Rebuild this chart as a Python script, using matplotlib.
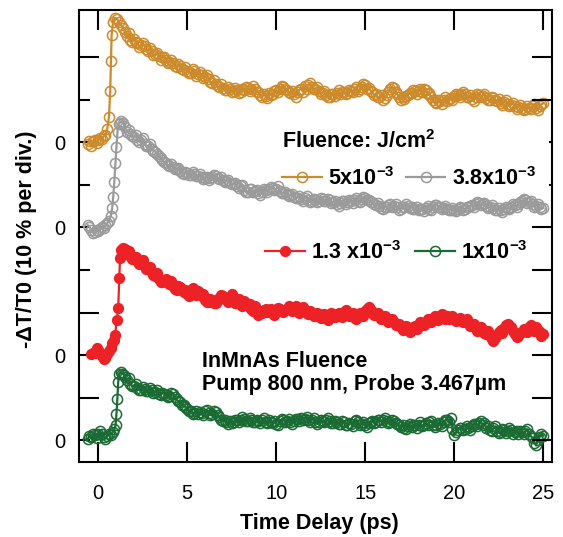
import numpy as np
import matplotlib
matplotlib.use("Agg")
import matplotlib.pyplot as plt

plt.rcParams['font.family'] = ['Liberation Sans', 'DejaVu Sans']
plt.rcParams['mathtext.fontset'] = 'custom'
plt.rcParams['mathtext.rm'] = 'Liberation Sans:bold'
plt.rcParams['mathtext.bf'] = 'Liberation Sans:bold'
plt.rcParams['mathtext.default'] = 'bf'

# ---- data: -dT/T0 in percent vs. pump-probe delay (ps) ----
# decay part is sampled on two interleaved 0.2 ps grids
t_tail = np.round(np.arange(1.6, 25.0001, 0.2), 2)   # 1.6, 1.8, ... 25.0
t_mid = np.round(np.arange(1.7, 24.9501, 0.2), 2)    # 1.7, 1.9, ... 24.9

# 5e-3 J/cm^2
t_head_5 = [-0.6, -0.5, -0.4, -0.3, -0.2, -0.1, 0.0, 0.1, 0.2, 0.3, 0.4, 0.5,
            0.6, 0.67, 0.71, 0.75, 0.83, 0.94, 1.05, 1.16, 1.28, 1.39, 1.5]
v_head_5 = [-0.5, 0.3, -0.8, 0.2, 0.6, -0.2, 0.5, 1.0, 0.8, 1.4, 1.6, 3.0,
            5.9, 12.0, 19.1, 25.2, 28.2, 29.1, 28.9, 28.2, 27.5, 26.8, 25.9]
v_tail_5 = [24.9, 24.1, 24.3, 23.2, 22.8, 22.6, 21.5, 21.3, 20.6, 20.3,
            19.9, 19.2, 18.9, 18.6, 17.7, 17.9, 17.0, 16.8, 16.2, 16.6,
            15.9, 15.7, 15.3, 14.8, 14.0, 13.7, 13.0, 12.7, 12.3, 12.5,
            12.1, 12.2, 11.9, 12.3, 12.8, 12.4, 12.6, 11.8, 10.6, 10.9,
            11.6, 11.3, 12.2, 12.5, 12.9, 12.3, 11.5, 11.2, 11.8, 12.5,
            13.1, 13.4, 13.0, 12.4, 12.0, 11.6, 11.0, 10.7, 11.2, 11.6,
            11.3, 11.8, 11.6, 12.1, 12.4, 12.0, 12.9, 13.4, 12.8, 11.7,
            11.2, 10.5, 9.9, 11.0, 12.4, 12.7, 11.2, 9.9, 10.2, 11.0,
            11.5, 12.0, 12.1, 11.8, 12.2, 11.6, 9.8, 9.1, 9.6, 9.9,
            9.7, 10.4, 10.8, 11.0, 11.4, 11.2, 10.6, 10.2, 10.6, 11.1,
            10.9, 10.3, 9.9, 10.4, 9.6, 9.3, 9.5, 9.0, 8.8, 8.4,
            8.2, 8.0, 7.9, 8.1, 8.4, 8.0, 8.6, 9.1]
v_mid_5 = [25.6, 23.5, 23.6, 22.4, 23.4, 21.8, 22.0, 20.5, 21.0, 19.4,
           20.1, 18.5, 19.3, 17.9, 18.3, 17.1, 17.6, 16.3, 17.1, 15.6,
           16.4, 15.1, 15.8, 14.2, 14.6, 13.1, 13.6, 12.2, 13.0, 11.8,
           12.7, 11.6, 12.5, 12.9, 12.1, 13.2, 11.9, 11.0, 11.4, 10.3,
           11.0, 12.0, 11.7, 13.2, 12.4, 11.8, 12.0, 10.7, 12.3, 11.9,
           12.6, 13.9, 12.5, 12.9, 11.4, 12.1, 10.5, 11.3, 10.8, 12.2,
           11.9, 11.2, 12.3, 11.7, 12.9, 12.5, 13.6, 12.6, 12.1, 11.0,
           10.6, 11.1, 10.4, 11.8, 13.0, 11.9, 10.5, 10.6, 10.9, 11.6,
           12.2, 11.4, 12.6, 12.5, 11.2, 10.6, 9.4, 10.0, 9.0, 10.5,
           10.2, 9.9, 11.4, 10.5, 11.9, 10.6, 11.0, 9.7, 11.3, 10.5,
           11.3, 9.8, 10.6, 9.8, 10.1, 8.8, 9.9, 8.5, 9.2, 7.9,
           8.7, 7.5, 8.4, 7.8, 8.9, 7.6, 8.9]

# 3.8e-3 J/cm^2
t_head_38 = [-0.6, -0.5, -0.4, -0.3, -0.2, -0.1, 0.0, 0.1, 0.2, 0.3, 0.4, 0.5,
             0.6, 0.7, 0.78, 0.84, 0.9, 0.96, 1.02, 1.08, 1.15, 1.22, 1.3, 1.4, 1.5]
v_head_38 = [0.6, 0.2, -0.5, -1.2, -1.0, -0.6, -0.9, -0.4, 0.1, -0.2, 0.5, 1.0,
             1.6, 2.6, 4.5, 7.2, 10.7, 15.0, 18.9, 22.5, 24.3, 24.6, 24.9, 24.5, 23.6]
v_tail_38 = [22.5, 22.0, 21.3, 20.6, 20.4, 19.6, 19.2, 18.5, 17.8, 16.7,
             15.9, 15.0, 14.3, 14.1, 13.6, 13.3, 12.6, 12.7, 12.2, 12.6,
             12.1, 11.8, 11.5, 11.2, 11.9, 12.0, 11.4, 11.1, 10.9, 10.5,
             10.1, 9.8, 9.6, 8.7, 8.4, 8.9, 8.5, 8.0, 8.3, 8.7,
             9.0, 9.3, 9.1, 8.6, 8.0, 7.8, 7.5, 7.2, 7.0, 6.7,
             6.9, 6.4, 6.1, 6.5, 6.3, 6.6, 6.2, 6.4, 5.9, 5.5,
             5.7, 6.1, 5.9, 6.2, 6.5, 6.3, 6.7, 6.9, 6.4, 5.9,
             5.3, 5.0, 4.4, 4.9, 5.4, 5.0, 4.7, 4.4, 4.9, 5.1,
             4.8, 4.4, 4.0, 4.3, 4.6, 4.4, 4.8, 5.3, 4.9, 4.6,
             4.4, 4.2, 4.1, 4.4, 4.6, 4.3, 4.8, 5.3, 5.5, 5.7,
             5.4, 5.0, 4.8, 4.5, 4.2, 4.0, 4.3, 4.6, 4.9, 5.2,
             5.6, 6.1, 6.4, 5.9, 5.5, 5.1, 4.8, 4.6]
v_mid_38 = [22.9, 21.5, 21.8, 20.1, 20.9, 19.1, 19.6, 18.0, 17.3, 16.3,
            15.4, 14.6, 14.8, 13.6, 14.0, 12.8, 13.1, 12.3, 12.9, 12.0,
            12.5, 11.3, 11.9, 11.6, 12.3, 11.5, 11.8, 10.6, 11.2, 10.1,
            10.4, 9.3, 9.9, 8.2, 9.0, 8.4, 8.8, 7.6, 8.9, 8.4,
            9.5, 8.8, 9.6, 8.1, 8.4, 7.4, 7.9, 6.8, 7.4, 6.3,
            7.3, 6.0, 6.6, 5.9, 6.8, 6.1, 6.7, 5.8, 6.2, 5.1,
            6.2, 5.6, 6.4, 5.8, 6.9, 6.0, 7.2, 6.5, 6.0, 5.4,
            5.7, 4.6, 4.9, 5.3, 4.8, 5.5, 4.2, 4.8, 5.4, 4.6,
            4.3, 4.8, 4.4, 3.9, 5.0, 4.1, 5.2, 4.8, 4.4, 5.0,
            4.0, 4.6, 3.8, 4.9, 4.1, 4.7, 5.1, 4.9, 5.9, 5.2,
            5.8, 4.6, 5.2, 4.1, 4.6, 3.7, 4.7, 4.3, 5.4, 4.8,
            5.9, 6.6, 5.8, 6.2, 4.9, 5.4, 4.3]

# 1.3e-3 J/cm^2
t_head_13 = [-0.4, -0.3, -0.2, -0.1, 0.0, 0.1, 0.2, 0.3, 0.4, 0.5, 0.6, 0.7,
             0.76, 0.86, 0.95, 1.03, 1.12, 1.18, 1.22, 1.3, 1.4, 1.5]
v_head_13 = [0.2, 0.4, 0.6, 1.6, 1.2, 0.5, -0.3, -0.8, -0.7, 0.3, 1.1, 1.8,
             2.8, 3.6, 4.7, 8.2, 11.0, 18.1, 22.8, 24.6, 25.2, 24.9]
v_tail_13 = [23.9, 23.2, 22.6, 22.0, 21.7, 20.9, 20.3, 19.5, 18.6, 17.8,
             17.1, 17.9, 16.8, 16.2, 15.4, 16.0, 14.8, 14.4, 15.2, 14.6,
             15.1, 13.8, 13.0, 12.4, 12.9, 12.3, 13.5, 14.0, 13.1, 13.6,
             12.9, 12.5, 12.1, 12.8, 11.6, 10.9, 11.5, 9.4, 9.9, 10.8,
             10.3, 9.9, 10.4, 10.9, 10.2, 10.8, 11.3, 10.9, 10.3, 10.8,
             10.4, 9.7, 9.9, 9.2, 9.6, 9.1, 8.8, 9.2, 9.7, 9.3,
             9.5, 10.1, 9.7, 9.2, 8.7, 9.1, 9.6, 10.4, 11.3, 10.0,
             9.5, 9.1, 8.9, 8.4, 8.0, 7.7, 7.2, 6.5, 6.2, 5.9,
             6.1, 6.8, 7.2, 7.6, 7.9, 8.3, 8.6, 8.8, 9.2, 8.9,
             9.1, 8.8, 8.6, 8.2, 8.4, 8.0, 7.5, 7.0, 6.3, 5.8,
             5.6, 5.0, 4.6, 3.4, 4.8, 5.9, 6.4, 7.4, 6.6, 5.0,
             4.6, 5.4, 5.9, 6.5, 6.1, 6.6, 5.4, 5.0]
v_mid_13 = [24.4, 22.5, 23.1, 21.3, 22.3, 20.2, 20.8, 18.9, 19.2, 17.1,
            17.7, 17.2, 17.5, 15.6, 16.2, 15.3, 15.4, 14.0, 15.7, 14.1,
            14.5, 14.3, 12.6, 13.3, 12.2, 12.9, 14.2, 13.2, 12.6, 14.3,
            12.2, 13.1, 11.6, 12.3, 11.9, 10.3, 10.6, 9.9, 10.5, 10.1,
            10.9, 9.4, 11.0, 10.3, 10.7, 11.5, 10.4, 11.6, 9.8, 11.3,
            9.9, 10.3, 9.3, 9.8, 8.8, 9.7, 8.3, 9.8, 9.0, 9.9,
            9.0, 10.5, 9.2, 9.8, 8.4, 9.9, 9.2, 10.9, 10.6, 9.4,
            9.9, 8.6, 9.3, 7.9, 8.5, 7.1, 7.4, 6.0, 6.8, 5.4,
            6.5, 6.2, 7.7, 7.0, 8.4, 7.8, 9.1, 8.3, 9.6, 8.4,
            8.6, 9.3, 8.0, 8.8, 7.7, 8.5, 6.9, 7.4, 5.7, 6.5,
            5.1, 5.7, 3.9, 4.1, 5.5, 5.3, 7.0, 6.8, 5.6, 4.3,
            5.2, 6.2, 5.4, 7.0, 5.6, 6.0, 4.4]

# 1e-3 J/cm^2
t_head_10 = [-0.6, -0.5, -0.4, -0.3, -0.2, -0.1, 0.0, 0.1, 0.2, 0.3, 0.4, 0.5,
             0.6, 0.7, 0.8, 0.9, 0.97, 1.02, 1.07, 1.12, 1.18, 1.25, 1.35, 1.45, 1.52]
v_head_10 = [0.3, 1.0, 0.8, 1.5, 1.2, 0.6, 1.4, 2.1, 1.6, 0.9, 0.4, 1.1,
             1.5, 1.3, 2.0, 2.6, 3.5, 6.2, 9.6, 13.8, 15.6, 16.1, 15.7, 15.3, 14.8]
v_tail_10 = [14.1, 13.3, 12.7, 12.4, 11.9, 12.1, 11.6, 11.9, 11.3, 11.0,
             11.2, 10.6, 10.4, 10.9, 9.6, 8.9, 8.2, 7.3, 6.8, 6.4,
             6.1, 6.5, 6.8, 6.4, 6.2, 6.6, 5.4, 4.5, 4.2, 4.6,
             4.3, 4.7, 4.9, 5.1, 4.6, 4.9, 4.2, 4.5, 4.8, 4.4,
             4.7, 4.1, 3.9, 4.5, 4.9, 4.6, 4.2, 4.5, 5.0, 5.3,
             5.1, 4.7, 4.9, 4.4, 4.2, 4.6, 4.8, 4.5, 4.1, 4.3,
             3.9, 4.2, 3.6, 3.9, 4.5, 4.2, 3.8, 3.5, 4.0, 4.5,
             4.3, 4.8, 4.9, 4.5, 4.2, 4.6, 3.9, 3.2, 3.0, 3.4,
             3.2, 3.5, 3.7, 3.3, 4.0, 4.2, 3.7, 3.5, 3.9, 4.3,
             4.8, 5.3, 1.2, 2.4, 3.0, 2.6, 2.9, 3.3, 3.8, 4.0,
             3.6, 3.0, 2.5, 2.8, 2.3, 2.0, 2.4, 2.1, 2.5, 1.9,
             1.6, 1.9, 2.2, 1.5, 0.6, -1.2, 0.8, 1.1]
v_mid_10 = [14.6, 12.8, 13.2, 11.8, 12.5, 11.5, 12.3, 11.2, 11.8, 10.6,
            11.0, 10.1, 11.1, 10.2, 9.2, 8.4, 7.8, 7.0, 6.3, 7.0,
            6.6, 6.0, 7.1, 5.9, 6.8, 6.0, 4.9, 4.9, 3.8, 4.1,
            4.9, 4.2, 5.4, 4.5, 5.2, 4.4, 4.9, 4.0, 5.2, 4.0,
            4.3, 4.5, 3.5, 5.0, 4.3, 5.1, 3.9, 5.0, 4.6, 4.8,
            5.5, 4.3, 5.2, 3.9, 4.7, 4.2, 5.2, 4.0, 4.6, 3.8,
            4.5, 3.7, 4.1, 3.4, 4.9, 3.7, 4.2, 3.1, 4.4, 4.0,
            4.8, 4.4, 5.3, 4.0, 4.7, 4.1, 3.5, 3.6, 2.7, 3.9,
            3.7, 3.0, 4.2, 3.6, 3.5, 4.6, 3.2, 4.0, 3.4, 4.7,
            4.4, 2.6, 1.9, 2.9, 2.4, 3.4, 2.5, 3.8, 3.3, 4.5,
            4.1, 3.3, 2.1, 3.3, 1.8, 2.6, 1.7, 2.8, 1.6, 2.3,
            2.3, 1.4, 2.6, 1.0, -0.6, 0.2, 1.6]

labels = ['5x10$^{-3}$', '3.8x10$^{-3}$', '1.3 x10$^{-3}$', '1x10$^{-3}$']
colors = ['#cd8a2b', '#9a9a9a', '#ec2227', '#1a6b33']
offsets_div = [7, 5, 2, 0]          # vertical offset of each trace (divisions)
pct_per_div = 10.0

heads_t = [t_head_5, t_head_38, t_head_13, t_head_10]
heads_v = [v_head_5, v_head_38, v_head_13, v_head_10]
tails_v = [v_tail_5, v_tail_38, v_tail_13, v_tail_10]
mids_v = [v_mid_5, v_mid_38, v_mid_13, v_mid_10]

fig = plt.figure(figsize=(5.63, 5.37), dpi=100)
ax = fig.add_axes([0.1412, 0.1397, 0.8401, 0.8426])

lines = []
for th, vh, vt, vm, off, col, lab in zip(heads_t, heads_v, tails_v, mids_v,
                                         offsets_div, colors, labels):
    assert len(th) == len(vh)
    assert len(vt) == len(t_tail) and len(vm) == len(t_mid)
    t = np.concatenate([th, t_tail, t_mid])
    v = np.concatenate([vh, vt, vm])
    order = np.argsort(t, kind='stable')
    t, v = t[order], v[order] / pct_per_div + off
    filled = lab.startswith('1.3')
    ln, = ax.plot(t, v, '-', color=col, lw=1.6, marker='o',
                  ms=7.0 if filled else 7.3,
                  mfc=col if filled else 'none', mec=col, mew=1.1, label=lab)
    lines.append(ln)

ax.set_xlim(-1.056, 25.52)
ax.set_ylim(-0.507, 10.115)

for sp in ax.spines.values():
    sp.set_linewidth(1.5)

# x axis: long inward ticks, also on top
ax.set_xticks([0, 5, 10, 15, 20, 25])
ax.tick_params(axis='x', which='major', direction='in', length=14.4, width=1.5,
               top=True, labelsize=14.5, pad=16)

# left axis: short ticks (major, with zero labels) and long ticks (minor)
ax.set_yticks([0, 2, 4, 5, 6, 7, 8])
ax.set_yticklabels(['0', '0', '', '0', '', '0', ''])
ax.set_yticks([1, 3, 9], minor=True)
ax.tick_params(axis='y', which='major', direction='in', length=8, width=1.5,
               labelsize=14.5, pad=10.4, right=False)
ax.tick_params(axis='y', which='minor', direction='in', length=14.4, width=1.5,
               right=False)

# right axis ticks
ax2 = ax.twinx()
ax2.set_ylim(ax.get_ylim())
ax2.set_yticks([0, 1, 2, 3, 4, 5, 8, 9])
ax2.set_yticks([6, 7], minor=True)
ax2.tick_params(axis='y', which='major', direction='in', length=14.4, width=1.5,
                labelright=False)
ax2.tick_params(axis='y', which='minor', direction='in', length=2.5, width=1.5)
for sp in ax2.spines.values():
    sp.set_visible(False)

fig.text(319 / 563, 1 - 524 / 537, 'Time Delay (ps)', fontsize=15.5, fontweight='bold',
         ha='center', va='center')
fig.text(27 / 563, 1 - 239 / 537, '-\u0394T/T0 (10 % per div.)', fontsize=15.5,
         fontweight='bold', rotation=90, ha='center', va='center')

bold = {'weight': 'bold', 'size': 15.5}
legA = ax.legend(handles=lines[:2], ncol=2, loc='upper left',
                 bbox_to_anchor=(282 / 563, 1 - 130 / 537), bbox_transform=fig.transFigure,
                 frameon=False, title='Fluence: J/cm$^{2}$', title_fontproperties=bold,
                 alignment='left', prop=bold, handlelength=1.85, handletextpad=0.3,
                 columnspacing=0.5, labelspacing=0.65, borderpad=0, borderaxespad=0)
ax.add_artist(legA)
ax.legend(handles=lines[2:], ncol=2, loc='upper left',
          bbox_to_anchor=(265 / 563, 1 - 241 / 537), bbox_transform=fig.transFigure,
          frameon=False, prop=bold, handlelength=1.85, handletextpad=0.3,
          columnspacing=0.6, borderpad=0, borderaxespad=0)

ax.text(0.259, 0.2453, 'InMnAs Fluence\nPump 800 nm, Probe 3.467\u00b5m',
        transform=ax.transAxes, fontsize=15.5, fontweight='bold', ha='left', va='top',
        linespacing=1.15)

fig.savefig('out.png', dpi=100)
